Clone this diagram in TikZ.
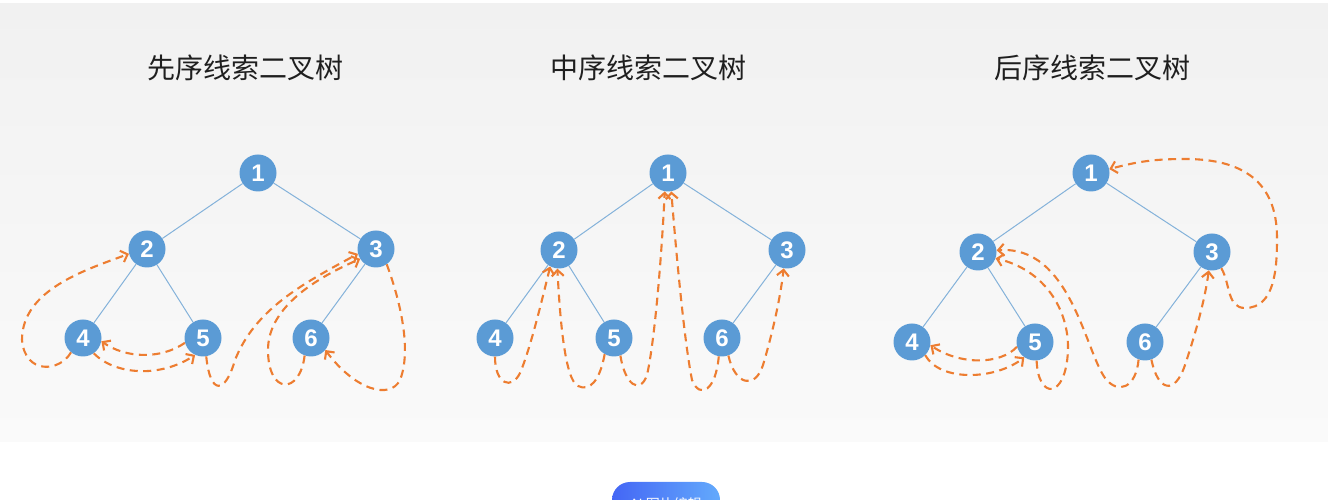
\documentclass[tikz,border=0pt]{standalone}
\usepackage{fontspec}
\newfontfamily\cjk{Noto Sans CJK SC}
\newfontfamily\numfont{Liberation Sans}
\usetikzlibrary{arrows.meta}
\definecolor{nodeblue}{HTML}{5B9BD5}
\definecolor{edgeblue}{HTML}{84B2DA}
\definecolor{threadorange}{HTML}{ED7D31}
\definecolor{bgtop}{HTML}{F1F1F1}
\definecolor{bgbottom}{HTML}{FAFAFA}
\definecolor{btnleft}{HTML}{4466F5}
\definecolor{btnright}{HTML}{63AAFC}
\tikzset{
    >={Straight Barb[length=6pt,width=12pt]},
    %tree nodes and threads
    tree node/.style={circle,fill=nodeblue,text=white,inner sep=0pt,minimum size=37pt,font=\numfont\bfseries\fontsize{24}{24}\selectfont},
    tree edge/.style={draw=edgeblue,line width=1pt},
    thread/.style={->,draw=threadorange,line width=2.1pt,dash pattern=on 8pt off 5.5pt},
    title/.style={font=\cjk\fontsize{28}{28}\selectfont,text=black!88}
}
\begin{document}
\begin{tikzpicture}[x=1pt,y=1pt]
    \useasboundingbox (0,0) rectangle (1328,500);
    \shade[top color=bgtop,bottom color=bgbottom] (0,58) rectangle (1328,496);
    \node[title] (pre title) at (245,432) {先序线索二叉树};
    \node[title] (in title) at (648,432) {中序线索二叉树};
    \node[title] (post title) at (1092,432) {后序线索二叉树};
    % preorder
    \node[tree node] (pre1) at (258,327) {1};
    \node[tree node] (pre2) at (147,251) {2};
    \node[tree node] (pre3) at (376,251) {3};
    \node[tree node] (pre4) at (83,162) {4};
    \node[tree node] (pre5) at (203,162) {5};
    \node[tree node] (pre6) at (311,162) {6};
    % inorder
    \node[tree node] (in1) at (668,327) {1};
    \node[tree node] (in2) at (559,250) {2};
    \node[tree node] (in3) at (787,250) {3};
    \node[tree node] (in4) at (495,162) {4};
    \node[tree node] (in5) at (614,162) {5};
    \node[tree node] (in6) at (722,162) {6};
    % postorder
    \node[tree node] (post1) at (1091,327) {1};
    \node[tree node] (post2) at (978,248) {2};
    \node[tree node] (post3) at (1212,248) {3};
    \node[tree node] (post4) at (912,158) {4};
    \node[tree node] (post5) at (1035,158) {5};
    \node[tree node] (post6) at (1145,158) {6};
    \path[tree edge]
        (pre1) edge (pre2) (pre1) edge (pre3) (pre2) edge (pre4) (pre2) edge (pre5) (pre3) edge (pre6)
        (in1) edge (in2) (in1) edge (in3) (in2) edge (in4) (in2) edge (in5) (in3) edge (in6)
        (post1) edge (post2) (post1) edge (post3) (post2) edge (post4) (post2) edge (post5) (post3) edge (post6);
    \draw[thread] (pre4.-130) .. controls (60,128) and (25,125) .. (22,160) .. controls (22,210) and (85,230) .. (pre2.195);
    \draw[thread] (pre5.195) .. controls (160,140) and (125,142) .. (pre4.-10);
    \draw[thread] (pre4.-55) .. controls (115,125) and (160,122) .. (pre5.-115);
    \draw[thread] (pre5.-80) .. controls (210,105) and (225,105) .. (235,140) .. controls (255,190) and (300,215) .. (pre3.195);
    \draw[thread] (pre6.-110) .. controls (300,105) and (268,105) .. (268,150) .. controls (268,185) and (300,215) .. (pre3.212);
    \draw[thread] (pre3.-55) .. controls (400,200) and (412,150) .. (400,120) .. controls (390,100) and (355,110) .. (pre6.-40);
    \draw[thread] (in4.-90) .. controls (495,115) and (512,110) .. (520,127) .. controls (530,150) and (542,200) .. (in2.242);
    \draw[thread] (in5.-120) .. controls (600,120) and (590,108) .. (578,114) .. controls (565,120) and (560,180) .. (in2.-95);
    \draw[thread] (in5.-70) .. controls (625,115) and (640,105) .. (647,125) .. controls (655,160) and (662,250) .. (in1.-100);
    \draw[thread] (in6.-100) .. controls (716,110) and (700,100) .. (692,120) .. controls (684,160) and (676,250) .. (in1.-80);
    \draw[thread] (in6.-70) .. controls (735,115) and (755,110) .. (763,135) .. controls (772,165) and (780,200) .. (in3.-100);
    \draw[thread] (post4.-45) .. controls (940,118) and (995,120) .. (post5.-125);
    \draw[thread] (post5.195) .. controls (1000,135) and (960,135) .. (post4.-10);
    \draw[thread] (post5.-85) .. controls (1038,100) and (1066,100) .. (1068,150) .. controls (1069,190) and (1045,230) .. (post2.-20);
    \draw[thread] (post6.-110) .. controls (1136,112) and (1118,105) .. (1105,122) .. controls (1085,150) and (1070,255) .. (post2.5);
    \draw[thread] (post6.-70) .. controls (1158,108) and (1175,105) .. (1185,135) .. controls (1195,165) and (1205,200) .. (post3.-100);
    \draw[thread] (post3.-60) to[out=-60,in=180] (1245,192) to[out=0,in=-90] (1277,262) to[out=90,in=0,looseness=1.2] (1185,341) to[out=180,in=15] (post1.12);
    \begin{scope}
        \clip (0,0) rectangle (1328,500);
        \shade[left color=btnleft,right color=btnright,rounded corners=18pt] (612,-20) rectangle (720,18);
        \node[text=white,font=\cjk\fontsize{14}{14}\selectfont] (edit button) at (666,-4) {AI 图片编辑};
    \end{scope}
\end{tikzpicture}
\end{document}
